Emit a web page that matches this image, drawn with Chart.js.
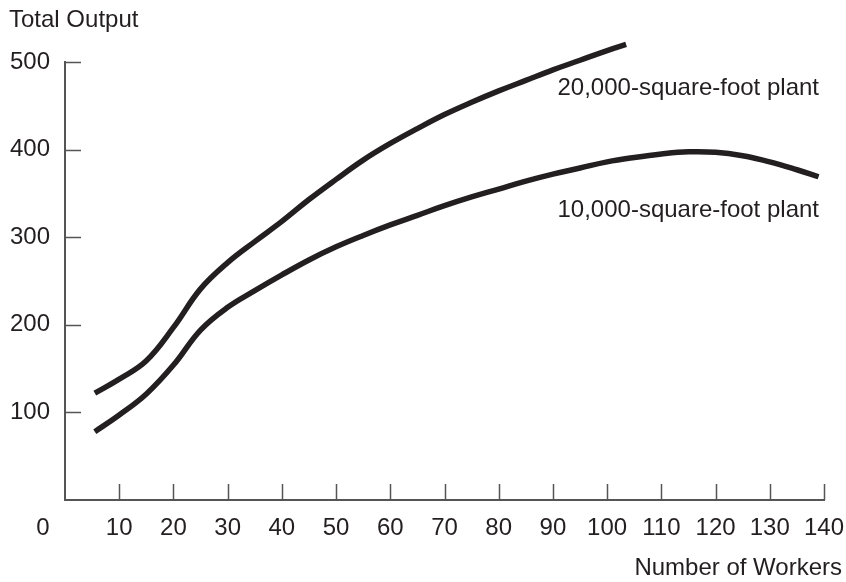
<!DOCTYPE html>
<html>
<head>
<meta charset="utf-8">
<script src="https://cdn.jsdelivr.net/npm/chart.js@4/dist/chart.umd.min.js"></script>
<style>
  html, body { margin: 0; padding: 0; background: #fff; }
  #wrap { width: 846px; height: 582px; }
</style>
</head>
<body>
<div id="wrap"><canvas id="outputChart" width="846" height="582"></canvas></div>
<script>
// Number of workers / total output
var workers20k = [5.5, 10, 15, 20, 25, 30, 35, 40, 45, 50, 55, 60, 65, 70, 75, 80, 85, 90, 95, 100, 103.5];
var output20k  = [122, 138, 159, 197, 241, 271, 295, 318, 343, 366, 388, 407, 424, 440, 454, 467, 479, 491, 502, 513, 520];

var workers10k = [5.5, 10, 15, 20, 25, 30, 35, 40, 45, 50, 55, 60, 65, 70, 75, 80, 85, 90, 95, 100, 105, 110, 115, 120, 125, 130, 135, 139];
var output10k  = [78, 97, 121, 154, 194, 220, 239, 257, 274, 289, 302, 314, 325, 336, 346, 355, 364, 372, 379, 386, 391, 395, 397.5, 397, 393, 386, 377, 369];

var seriesNames = ['20,000-square-foot plant', '10,000-square-foot plant'];
var xTicks = [10, 20, 30, 40, 50, 60, 70, 80, 90, 100, 110, 120, 130, 140];
var yTicks = [100, 200, 300, 400, 500];

var FONT = '"Liberation Sans", Arial, Helvetica, sans-serif';
var INK = '#231f20';
var AXIS = '#555555';

function toPoints(xs, ys) {
    return xs.map(function (x, i) { return { x: x, y: ys[i] }; });
}

// inward tick marks, corner "0", axis captions and curve labels
var decorations = {
    id: 'decorations',
    afterDraw: function (chart) {
        var ctx = chart.ctx;
        var area = chart.chartArea;
        var xs = chart.scales.x, ys = chart.scales.y;
        ctx.save();
        ctx.strokeStyle = AXIS;
        ctx.lineWidth = 1.5;
        ctx.beginPath();
        xTicks.forEach(function (v) {
            var px = Math.round(xs.getPixelForValue(v)) + 0.5;
            ctx.moveTo(px, area.bottom);
            ctx.lineTo(px, area.bottom - 16);
        });
        yTicks.forEach(function (v) {
            var py = Math.round(ys.getPixelForValue(v)) + 0.5;
            ctx.moveTo(area.left, py);
            ctx.lineTo(area.left + 16, py);
        });
        ctx.stroke();

        ctx.fillStyle = INK;
        ctx.font = '24px ' + FONT;
        ctx.textBaseline = 'middle';
        ctx.textAlign = 'center';
        ctx.fillText('0', area.left - 22, area.bottom + 28);

        ctx.textBaseline = 'alphabetic';
        ctx.textAlign = 'left';
        ctx.fillText('Total Output', 9, 27);
        ctx.textAlign = 'right';
        ctx.fillText('Number of Workers', area.right + 18, 575);
        ctx.fillText(seriesNames[0], area.right - 5, 95);
        ctx.fillText(seriesNames[1], area.right - 5, 217);
        ctx.restore();
    }
};

var ctx = document.getElementById('outputChart').getContext('2d');
var outputChart = new Chart(ctx, {
    type: 'line',
    data: {
        datasets: [{
            label: seriesNames[0],
            data: toPoints(workers20k, output20k),
            borderColor: INK,
            borderWidth: 5.5,
            borderCapStyle: 'butt',
            tension: 0.4,
            pointRadius: 0,
            clip: false,
            fill: false
        }, {
            label: seriesNames[1],
            data: toPoints(workers10k, output10k),
            borderColor: INK,
            borderWidth: 5.5,
            borderCapStyle: 'butt',
            tension: 0.4,
            pointRadius: 0,
            clip: false,
            fill: false
        }]
    },
    options: {
        responsive: false,
        animation: false,
        layout: { padding: { top: 62, right: 22, left: 0, bottom: 0 } },
        plugins: {
            legend: { display: false },
            tooltip: { enabled: false }
        },
        scales: {
            x: {
                type: 'linear',
                min: 0,
                max: 140,
                afterFit: function (s) {
                    s.height = 82;
                    s.paddingLeft = 0;
                    s.paddingRight = 0;
                },
                grid: { display: false, drawTicks: false, tickLength: 0 },
                border: { display: true, color: AXIS, width: 2 },
                afterBuildTicks: function (s) {
                    s.ticks = xTicks.map(function (v) { return { value: v }; });
                },
                ticks: {
                    padding: 14,
                    maxRotation: 0,
                    autoSkip: false,
                    color: INK,
                    font: { family: FONT, size: 24 }
                }
            },
            y: {
                min: 0,
                max: 500,
                afterFit: function (s) {
                    s.width = 65;
                    s.paddingTop = 0;
                    s.paddingBottom = 0;
                },
                grid: { display: false, drawTicks: false, tickLength: 0 },
                border: { display: true, color: AXIS, width: 2 },
                afterBuildTicks: function (s) {
                    s.ticks = yTicks.map(function (v) { return { value: v }; });
                },
                ticks: {
                    padding: 15,
                    color: INK,
                    font: { family: FONT, size: 24 }
                }
            }
        }
    },
    plugins: [decorations]
});
</script>
</body>
</html>
